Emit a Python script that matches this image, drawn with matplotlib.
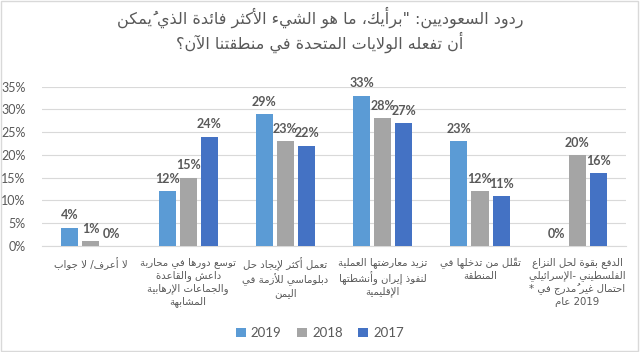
import re
import unicodedata
import numpy as np
import matplotlib
matplotlib.use("Agg")
import matplotlib.pyplot as plt
from matplotlib.patches import Rectangle

plt.rcParams['font.family'] = ['Lato', 'DejaVu Sans']

# data
title_lines = ['ردود السعوديين: "برأيك، ما هو الشيء الأكثر فائدة الذي يُمكن',
               'أن تفعله الولايات المتحدة في منطقتنا الآن؟']
categories = ['لا أعرف/ لا جواب',
              'توسع دورها في محاربة\nداعش والقاعدة\nوالجماعات الإرهابية\nالمشابهة',
              'تعمل أكثر لإيجاد حل\nدبلوماسي للأزمة في\nاليمن',
              'تزيد معارضتها العملية\nلنفوذ إيران وأنشطتها\nالإقليمية',
              'تقلّل من تدخلها في\nالمنطقة',
              'الدفع بقوة لحل النزاع\nالفلسطيني -الإسرائيلي\n* احتمال غير مُدرج في\nعام 2019']
years = ['2019', '2018', '2017']
vals_2019 = [4, 12, 29, 33, 23, 0]
vals_2018 = [1, 15, 23, 28, 12, 20]
vals_2017 = [0, 24, 22, 27, 11, 16]
colors = ['#5B9BD5', '#A5A5A5', '#4472C4']
text_grey = '#595959'


'''
simple arabic shaping, matplotlib has no text layout engine
'''

def _four(start):
    return (start, start + 1, start + 2, start + 3)

FORMS = {
    'ء': (0xFE80,), 'آ': (0xFE81, 0xFE82), 'أ': (0xFE83, 0xFE84),
    'ؤ': (0xFE85, 0xFE86), 'إ': (0xFE87, 0xFE88), 'ئ': _four(0xFE89),
    'ا': (0xFE8D, 0xFE8E), 'ب': _four(0xFE8F), 'ة': (0xFE93, 0xFE94),
    'ت': _four(0xFE95), 'ث': _four(0xFE99), 'ج': _four(0xFE9D),
    'ح': _four(0xFEA1), 'خ': _four(0xFEA5), 'د': (0xFEA9, 0xFEAA),
    'ذ': (0xFEAB, 0xFEAC), 'ر': (0xFEAD, 0xFEAE), 'ز': (0xFEAF, 0xFEB0),
    'س': _four(0xFEB1), 'ش': _four(0xFEB5), 'ص': _four(0xFEB9),
    'ض': _four(0xFEBD), 'ط': _four(0xFEC1), 'ظ': _four(0xFEC5),
    'ع': _four(0xFEC9), 'غ': _four(0xFECD), 'ف': _four(0xFED1),
    'ق': _four(0xFED5), 'ك': _four(0xFED9), 'ل': _four(0xFEDD),
    'م': _four(0xFEE1), 'ن': _four(0xFEE5), 'ه': _four(0xFEE9),
    'و': (0xFEED, 0xFEEE), 'ى': (0xFEEF, 0xFEF0), 'ي': _four(0xFEF1),
}
LAM_ALEF = {'آ': (0xFEF5, 0xFEF6), 'أ': (0xFEF7, 0xFEF8),
            'إ': (0xFEF9, 0xFEFA), 'ا': (0xFEFB, 0xFEFC)}


def join_type(c):
    if c == 'ـ':
        return 'D'
    f = FORMS.get(c)
    if f is None:
        return 'T' if unicodedata.combining(c) else 'U'
    return {1: 'U', 2: 'R', 4: 'D'}[len(f)]


def neighbour(chars, i, step):
    j = i + step
    while 0 <= j < len(chars) and join_type(chars[j]) == 'T':
        j += step
    if 0 <= j < len(chars):
        return chars[j]
    return None


def shape(text):
    chars = list(text)
    out = []
    i = 0
    while i < len(chars):
        c = chars[i]
        if c not in FORMS:
            out.append(c)
            i += 1
            continue
        t = join_type(c)
        prev = neighbour(chars, i, -1)
        before = prev is not None and join_type(prev) == 'D' and t in 'RD'
        if c == 'ل' and i + 1 < len(chars) and chars[i + 1] in LAM_ALEF:
            out.append(chr(LAM_ALEF[chars[i + 1]][1 if before else 0]))
            i += 2
            continue
        nxt = neighbour(chars, i, 1)
        after = t == 'D' and nxt is not None and join_type(nxt) in 'RD'
        f = FORMS[c]
        if before and after:
            code = f[3]
        elif before:
            code = f[1]
        elif after:
            code = f[2]
        else:
            code = f[0]
        out.append(chr(code))
        i += 1
    return ''.join(out)


def is_arabic(tok):
    o = ord(tok[0])
    return 0x0600 <= o <= 0x06FF or 0xFE70 <= o <= 0xFEFF


def visual_line(text, rtl=True):
    tokens = re.findall(r'[0-9A-Za-z]+|.[\u064B-\u0652]*', shape(text))
    if rtl:
        return ''.join(reversed(tokens))
    kinds = []
    for tok in tokens:
        if is_arabic(tok):
            kinds.append('A')
        elif tok[0].isalnum():
            kinds.append('L')
        else:
            kinds.append('N')
    # neutrals between two arabic tokens go with the arabic run
    for i, k in enumerate(kinds):
        if k == 'N':
            left = next((kinds[j] for j in range(i - 1, -1, -1) if kinds[j] != 'N'), 'L')
            right = next((kinds[j] for j in range(i + 1, len(kinds)) if kinds[j] != 'N'), 'L')
            kinds[i] = 'a' if left in 'Aa' and right == 'A' else 'L'
    out = []
    run = []
    for tok, k in zip(tokens, kinds):
        if k in 'Aa':
            run.append(tok)
        else:
            out.extend(reversed(run))
            run = []
            out.append(tok)
    out.extend(reversed(run))
    return ''.join(out)


def visual(text, rtl=True):
    return '\n'.join(visual_line(line, rtl) for line in text.split('\n'))


fig = plt.figure(figsize=(6.4, 3.52), dpi=100)
fig.patches.append(Rectangle((0.002, 0.003), 0.995, 0.994, transform=fig.transFigure,
                             fill=False, edgecolor='#D9D9D9', linewidth=1))
ax = fig.add_axes([0.066, 0.301, 0.912, 0.453])

x = np.arange(len(categories))
step = 0.217
width = 0.175
for k, (vals, year) in enumerate(zip([vals_2019, vals_2018, vals_2017], years)):
    pos = x + (k - 1) * step
    ax.bar(pos, np.array(vals) / 100, width=width, color=colors[k], label=year, zorder=3)
    for p, v in zip(pos, vals):
        ax.text(p, v / 100 + 0.014, f'{v}%', ha='center', va='bottom', fontsize=9,
                fontweight='bold', color=text_grey, zorder=4)

ax.set_ylim(0, 0.35)
ax.set_xlim(-0.5, len(categories) - 0.5)
ax.set_yticks(np.arange(0, 0.351, 0.05))
ax.set_yticklabels([f'{int(round(t * 100))}%' for t in np.arange(0, 0.351, 0.05)])
ax.yaxis.grid(True, color='#D9D9D9', linewidth=0.8, zorder=0)
for s in ['top', 'right', 'left']:
    ax.spines[s].set_visible(False)
ax.spines['bottom'].set_color('#D9D9D9')
ax.tick_params(axis='y', length=0, pad=12, labelsize=9, labelcolor=text_grey)
ax.tick_params(axis='x', length=0, pad=8)
ax.set_xticks(x)
ax.set_xticklabels([visual(c, rtl=False) for c in categories], fontsize=7.3,
                   color=text_grey, family='DejaVu Sans', linespacing=1.25, va='top')

fig.text(0.5, 0.915, visual('\n'.join(title_lines)), ha='center', va='center',
         fontsize=11.5, color=text_grey, family='DejaVu Sans', linespacing=1.25)

fig.legend(loc='center', bbox_to_anchor=(0.5, 0.054), ncol=3, frameon=False,
           fontsize=9.5, labelcolor=text_grey, handlelength=0.7, handleheight=0.7,
           handletextpad=0.4, columnspacing=1.2)

fig.savefig('out.png', dpi=100)
